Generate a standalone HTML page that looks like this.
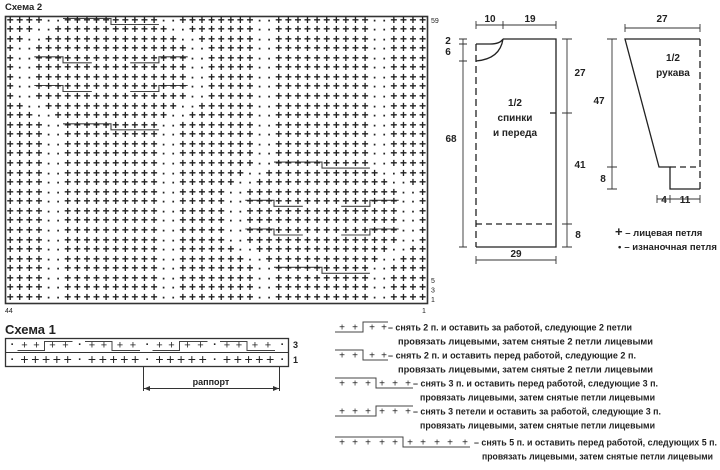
<!DOCTYPE html>
<html><head><meta charset="utf-8">
<style>
html,body{margin:0;padding:0;background:#fff;}
#w{position:relative;width:720px;height:470px;overflow:hidden;background:#fff;}
.r{position:absolute;left:6.6px;font-family:"Liberation Mono",monospace;font-size:12px;font-weight:bold;letter-spacing:2.39px;line-height:9.57px;height:9.57px;white-space:pre;color:#222;}
svg{position:absolute;left:0;top:0;}
svg text{font-family:"Liberation Sans",sans-serif;fill:#222;}
</style></head><body><div id="w">
<svg width="720" height="470" viewBox="0 0 720 470">
<text x="5" y="10" font-size="9.5" font-weight="bold">Схема 2</text>
<rect x="5.5" y="16.5" width="422" height="287" fill="none" stroke="#333" stroke-width="1.6"/>
<g fill="none" stroke="#444" stroke-width="1.1">
<path d="M63,18.5 H111 V24.5 H158.9"/>
<path d="M63,123.8 H111 V129.8 H158.9"/>
<path d="M34.3,56.8 H63 V62.8 H91.8 M130.2,62.8 H158.9 V56.8 H187.7"/>
<path d="M34.3,85.5 H63 V91.5 H91.8 M130.2,91.5 H158.9 V85.5 H187.7"/>
<path d="M274,162.1 H322 V168.1 H369.9"/>
<path d="M274,267.3 H322 V273.3 H369.9"/>
<path d="M245.3,200.3 H274 V206.3 H302.8 M341.2,206.3 H369.9 V200.3 H398.7"/>
<path d="M245.3,229 H274 V235 H302.8 M341.2,235 H369.9 V229 H398.7"/>
</g>
<g font-size="7">
<text x="431" y="23">59</text>
<text x="431" y="283">5</text>
<text x="431" y="292.5">3</text>
<text x="431" y="302">1</text>
<text x="5" y="313">44</text>
<text x="422" y="313">1</text>
</g>

<!-- Schema 1 -->
<text x="5" y="334" font-size="13" font-weight="bold">Схема 1</text>
<rect x="5.5" y="338.5" width="283" height="28" fill="none" stroke="#333" stroke-width="1.3"/>
<line x1="5.5" y1="352.5" x2="288.5" y2="352.5" stroke="#333" stroke-width="1"/>
<text x="293" y="348" font-size="9" font-weight="bold">3</text>
<text x="293" y="363" font-size="9" font-weight="bold">1</text>
<g font-size="11" font-weight="bold" text-anchor="middle">
<text x="12.5" y="348">·</text><text x="80" y="348">·</text><text x="147.5" y="348">·</text><text x="215" y="348">·</text><text x="282.5" y="348">·</text>
<text x="12.5" y="363">·</text><text x="80" y="363">·</text><text x="147.5" y="363">·</text><text x="215" y="363">·</text><text x="282.5" y="363">·</text>
</g>
<g font-size="11" text-anchor="middle">
<text x="24.5" y="348.5">+</text><text x="36.5" y="348.5">+</text><text x="52.5" y="348.5">+</text><text x="65.5" y="348.5">+</text>
<text x="92" y="348.5">+</text><text x="104" y="348.5">+</text><text x="120" y="348.5">+</text><text x="133" y="348.5">+</text>
<text x="159.5" y="348.5">+</text><text x="171.5" y="348.5">+</text><text x="187.5" y="348.5">+</text><text x="200.5" y="348.5">+</text>
<text x="227" y="348.5">+</text><text x="239" y="348.5">+</text><text x="255" y="348.5">+</text><text x="268" y="348.5">+</text>
</g>
<g font-size="14" text-anchor="middle">
<text x="24.5" y="364">+</text><text x="35.3" y="364">+</text><text x="46.1" y="364">+</text><text x="56.9" y="364">+</text><text x="67.7" y="364">+</text>
<text x="92" y="364">+</text><text x="102.8" y="364">+</text><text x="113.6" y="364">+</text><text x="124.4" y="364">+</text><text x="135.2" y="364">+</text>
<text x="159.5" y="364">+</text><text x="170.3" y="364">+</text><text x="181.1" y="364">+</text><text x="191.9" y="364">+</text><text x="202.7" y="364">+</text>
<text x="227" y="364">+</text><text x="237.8" y="364">+</text><text x="248.6" y="364">+</text><text x="259.4" y="364">+</text><text x="270.2" y="364">+</text>
</g>
<g fill="none" stroke="#444" stroke-width="1">
<path d="M17.5,350.5 H44.5 V341.5 H72.5"/>
<path d="M85,341.5 H112 V350.5 H140"/>
<path d="M152.5,350.5 H179.5 V341.5 H207.5"/>
<path d="M220,341.5 H247 V350.5 H275"/>
</g>
<g stroke="#333" stroke-width="1" fill="none">
<line x1="143.5" y1="366" x2="143.5" y2="391"/>
<line x1="279.5" y1="366" x2="279.5" y2="391"/>
<line x1="144" y1="388.5" x2="279" y2="388.5"/>
</g>
<path d="M144,388.5 l6,-2.5 v5 z M279,388.5 l-6,-2.5 v5 z" fill="#333"/>
<text x="211" y="385" font-size="9" font-weight="bold" text-anchor="middle">раппорт</text>

<!-- Legend symbols -->
<g font-size="10" text-anchor="middle">
<text x="342" y="330.5">+</text><text x="355" y="330.5">+</text><text x="372" y="330.5">+</text><text x="384" y="330.5">+</text>
<text x="342" y="358.5">+</text><text x="355" y="358.5">+</text><text x="372" y="358.5">+</text><text x="384" y="358.5">+</text>
<text x="342" y="386.5">+</text><text x="355" y="386.5">+</text><text x="368" y="386.5">+</text><text x="382" y="386.5">+</text><text x="395" y="386.5">+</text><text x="408" y="386.5">+</text>
<text x="342" y="414.5">+</text><text x="355" y="414.5">+</text><text x="368" y="414.5">+</text><text x="382" y="414.5">+</text><text x="395" y="414.5">+</text><text x="408" y="414.5">+</text>
<text x="342" y="445.5">+</text><text x="355" y="445.5">+</text><text x="368" y="445.5">+</text><text x="382" y="445.5">+</text><text x="395" y="445.5">+</text>
<text x="410" y="445.5">+</text><text x="423" y="445.5">+</text><text x="437" y="445.5">+</text><text x="450" y="445.5">+</text><text x="465" y="445.5">+</text>
</g>
<g fill="none" stroke="#444" stroke-width="1">
<path d="M335,332 H363 V322 H388"/>
<path d="M335,350 H363 V360 H388"/>
<path d="M335,378 H376 V388 H413"/>
<path d="M335,416 H376 V406 H413"/>
<path d="M335,437 H403 V447 H470"/>
</g>
<g font-size="9.5" font-weight="bold" lengthAdjust="spacingAndGlyphs">
<text x="388" y="330.5" textLength="244" lengthAdjust="spacingAndGlyphs">– снять 2 п. и оставить за работой, следующие 2 петли</text>
<text x="398" y="344.5" textLength="255" lengthAdjust="spacingAndGlyphs">провязать лицевыми, затем снятые 2 петли лицевыми</text>
<text x="388" y="358.5" textLength="248" lengthAdjust="spacingAndGlyphs">– снять 2 п. и оставить перед работой, следующие 2 п.</text>
<text x="398" y="372.5" textLength="255" lengthAdjust="spacingAndGlyphs">провязать лицевыми, затем снятые 2 петли лицевыми</text>
<text x="413" y="386.5" textLength="245" lengthAdjust="spacingAndGlyphs">– снять 3 п. и оставить перед работой, следующие 3 п.</text>
<text x="420" y="400.5" textLength="235" lengthAdjust="spacingAndGlyphs">провязать лицевыми, затем снятые петли лицевыми</text>
<text x="413" y="414.5" textLength="248" lengthAdjust="spacingAndGlyphs">– снять 3 петели и оставить за работой, следующие 3 п.</text>
<text x="420" y="428.5" textLength="235" lengthAdjust="spacingAndGlyphs">провязать лицевыми, затем снятые петли лицевыми</text>
<text x="474" y="445.5" textLength="243" lengthAdjust="spacingAndGlyphs">– снять 5 п. и оставить перед работой, следующих 5 п.</text>
<text x="482" y="459.5" textLength="231" lengthAdjust="spacingAndGlyphs">провязать лицевыми, затем снятые петли лицевыми</text>
</g>

<!-- Body schematic -->
<g stroke="#222" fill="none" stroke-width="1.3">
<path d="M503,39 H556 V247 H476"/>
<path d="M476,44 H490 Q500,44 503,39"/>
<path d="M476,61 Q500,59 503,39"/>
<path d="M476,44 V247" stroke-dasharray="7,4"/>
<path d="M476,224 H556" stroke-dasharray="6,4"/>
<path d="M550,113 H556"/>
</g>
<g stroke="#333" fill="none" stroke-width="0.9">
<path d="M476,25 H556 M476,21 V29 M503,21 V29 M556,21 V29"/>
<path d="M463,39 V61 M459,39 H467 M459,44 H467 M459,61 H467 M463,61 V247 M459,247 H467"/>
<path d="M567,39 V247 M562,39 H572 M562,113 H572 M562,224 H572 M562,247 H572"/>
<path d="M476,260 H556 M476,256 V264 M556,256 V264"/>
</g>
<g font-size="10" font-weight="bold" text-anchor="middle">
<text x="490" y="22">10</text><text x="530" y="22">19</text>
<text x="448" y="44">2</text><text x="448" y="55">6</text>
<text x="451" y="142">68</text>
<text x="580" y="76">27</text><text x="580" y="168">41</text><text x="578" y="238">8</text>
<text x="516" y="257">29</text>
<text x="515" y="106">1/2</text><text x="515" y="121">спинки</text><text x="515" y="136">и переда</text>
</g>

<!-- Sleeve -->
<g stroke="#222" fill="none" stroke-width="1.3">
<path d="M700,39 H625 L659,167 H670 V189 H700"/>
<path d="M700,39 V189" stroke-dasharray="7,4"/>
<path d="M670,167 H700" stroke-dasharray="6,4"/>
</g>
<g stroke="#333" fill="none" stroke-width="0.9">
<path d="M625,28 H700 M625,24 V32 M700,24 V32"/>
<path d="M612,39 V189 M607,39 H617 M607,167 H617 M607,189 H617"/>
<path d="M657,199 H700 M657,195 V203 M670,195 V203 M700,195 V203"/>
</g>
<g font-size="10" font-weight="bold" text-anchor="middle">
<text x="662" y="22">27</text>
<text x="599" y="104">47</text><text x="603" y="182">8</text>
<text x="664" y="203">4</text><text x="685" y="203">11</text>
<text x="673" y="61">1/2</text><text x="673" y="76">рукава</text>
</g>
<g font-size="9.5" font-weight="bold">
<text x="615" y="236"><tspan font-size="13">+</tspan> – лицевая петля</text>
<text x="618" y="250">•<tspan dx="3">– изнаночная петля</tspan></text>
</g>
</svg>

<div class="r" style="top:16.5px">++++··++++++++++··++++++++··++++++++++··++++</div>
<div class="r" style="top:26.07px">+++··++++++++++++··+++++++··++++++++++··++++</div>
<div class="r" style="top:35.64px">++··++++++++++++++··++++++··++++++++++··++++</div>
<div class="r" style="top:45.21px">+··++++++++++++++++··+++++··++++++++++··++++</div>
<div class="r" style="top:54.78px">+··++++++++++++++++··+++++··++++++++++··++++</div>
<div class="r" style="top:64.35px">+··++++++++++++++++··+++++··++++++++++··++++</div>
<div class="r" style="top:73.92px">+··++++++++++++++++··+++++··++++++++++··++++</div>
<div class="r" style="top:83.49px">+··++++++++++++++++··+++++··++++++++++··++++</div>
<div class="r" style="top:93.06px">+··++++++++++++++++··+++++··++++++++++··++++</div>
<div class="r" style="top:102.63px">++··++++++++++++++··++++++··++++++++++··++++</div>
<div class="r" style="top:112.2px">+++··++++++++++++··+++++++··++++++++++··++++</div>
<div class="r" style="top:121.77px">++++··++++++++++··++++++++··++++++++++··++++</div>
<div class="r" style="top:131.34px">++++··++++++++++··++++++++··++++++++++··++++</div>
<div class="r" style="top:140.91px">++++··++++++++++··++++++++··++++++++++··++++</div>
<div class="r" style="top:150.48px">++++··++++++++++··++++++++··++++++++++··++++</div>
<div class="r" style="top:160.05px">++++··++++++++++··++++++++··++++++++++··++++</div>
<div class="r" style="top:169.62px">++++··++++++++++··+++++++··++++++++++++··+++</div>
<div class="r" style="top:179.19px">++++··++++++++++··++++++··++++++++++++++··++</div>
<div class="r" style="top:188.76px">++++··++++++++++··+++++··++++++++++++++++··+</div>
<div class="r" style="top:198.33px">++++··++++++++++··+++++··++++++++++++++++··+</div>
<div class="r" style="top:207.9px">++++··++++++++++··+++++··++++++++++++++++··+</div>
<div class="r" style="top:217.47px">++++··++++++++++··+++++··++++++++++++++++··+</div>
<div class="r" style="top:227.04px">++++··++++++++++··+++++··++++++++++++++++··+</div>
<div class="r" style="top:236.61px">++++··++++++++++··+++++··++++++++++++++++··+</div>
<div class="r" style="top:246.18px">++++··++++++++++··++++++··++++++++++++++··++</div>
<div class="r" style="top:255.75px">++++··++++++++++··+++++++··++++++++++++··+++</div>
<div class="r" style="top:265.32px">++++··++++++++++··++++++++··++++++++++··++++</div>
<div class="r" style="top:274.89px">++++··++++++++++··++++++++··++++++++++··++++</div>
<div class="r" style="top:284.46px">++++··++++++++++··++++++++··++++++++++··++++</div>
<div class="r" style="top:294.03px">++++··++++++++++··++++++++··++++++++++··++++</div>
</div></body></html>
